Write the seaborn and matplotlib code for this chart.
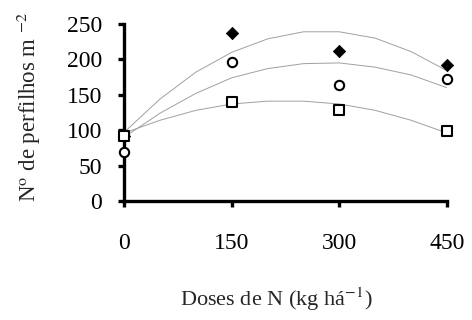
import pandas as pd
import matplotlib
matplotlib.use('Agg')
import matplotlib.pyplot as plt
import seaborn as sns

doses = [0, 150, 300, 450]
diamond_vals = [92, 237, 212, 192]
circle_vals = [69, 196, 164, 172]
square_vals = [92, 140, 129, 99]

# fitted curves, every 50 kg
curve_x = [0, 50, 100, 150, 200, 250, 300, 350, 400, 450]
curve_top = [97, 144, 182, 210, 229, 239, 239, 230, 211, 184]
curve_mid = [90, 124, 152, 174, 187, 194, 195, 189, 178, 160]
curve_low = [96, 114, 128, 137, 141, 141, 137, 128, 114, 96]

sns.set_style('white')
plt.rcParams['font.family'] = ['Liberation Serif', 'DejaVu Serif']
plt.rcParams['mathtext.fontset'] = 'stix'

fig = plt.figure(figsize=(4.72, 3.20), dpi=100)
ax = fig.add_axes([0.263, 0.372, 0.684, 0.553])

curves = pd.DataFrame({'x': curve_x * 3,
                       'y': curve_top + curve_mid + curve_low,
                       'curve': ['top'] * 10 + ['mid'] * 10 + ['low'] * 10})
sns.lineplot(data=curves, x='x', y='y', units='curve', estimator=None,
             color='#a0a0a0', linewidth=0.7, ax=ax)

sns.scatterplot(x=doses, y=diamond_vals, marker='D', s=40, color='black',
                edgecolor='black', ax=ax, clip_on=False, zorder=3)
sns.scatterplot(x=doses, y=circle_vals, marker='o', s=45, color='white',
                edgecolor='black', linewidth=1.5, ax=ax, clip_on=False, zorder=4)
sns.scatterplot(x=doses, y=square_vals, marker='s', s=50, color='white',
                edgecolor='black', linewidth=1.5, ax=ax, clip_on=False, zorder=5)

ax.set_xlim(0, 450)
ax.set_ylim(0, 250)
ax.set_xticks([0, 150, 300, 450])
ax.set_yticks([0, 50, 100, 150, 200, 250])
for side in ['top', 'right']:
    ax.spines[side].set_visible(False)
for side in ['left', 'bottom']:
    ax.spines[side].set_linewidth(2.4)
    ax.spines[side].set_color('black')
ax.tick_params(axis='both', direction='out', length=4, width=2.4, labelsize=17,
               colors='black')
ax.tick_params(axis='x', pad=19)
ax.tick_params(axis='y', pad=12)
ax.tick_params(left=True, bottom=True)

ax.set_xlabel('Doses de N (kg há$^{-1}$)', fontsize=16)
ax.xaxis.set_label_coords(0.47, -0.48)
ax.set_ylabel('N$^{\\mathrm{o}}$ de perfilhos m $^{-2}$', fontsize=16.5)
ax.yaxis.set_label_coords(-0.25, 0.53)

fig.savefig('out.png', dpi=100)
